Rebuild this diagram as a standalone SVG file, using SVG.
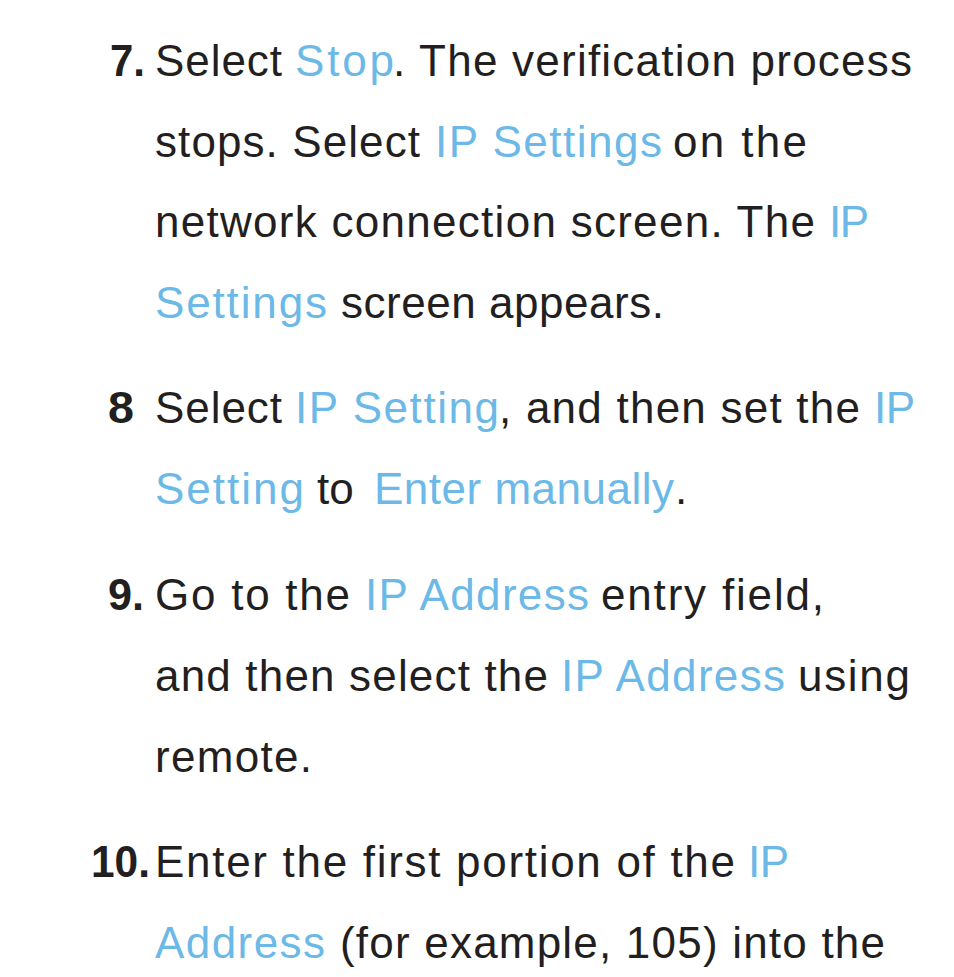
<svg xmlns="http://www.w3.org/2000/svg" width="954" height="977" viewBox="0 0 954 977">
<style>
text{font-family:"Liberation Sans",Arial,sans-serif;font-size:44px;}
.k{fill:#231f20;}
.b{fill:#6cb9e8;}
.n{fill:#231f20;font-weight:bold;}
</style>
<rect width="954" height="977" fill="#ffffff"/>
<g id="step7">
<text class="n" x="110" y="76" textLength="35" lengthAdjust="spacingAndGlyphs">7.</text>
<text class="k" x="155" y="76" textLength="127" lengthAdjust="spacing">Select</text>
<text class="b" x="295" y="76" textLength="99" lengthAdjust="spacing">Stop</text>
<text class="k" x="393" y="76" textLength="519" lengthAdjust="spacing">. The verification process</text>
<text class="k" x="155" y="157" textLength="265" lengthAdjust="spacing">stops. Select</text>
<text class="b" x="435" y="157" textLength="227" lengthAdjust="spacing">IP Settings</text>
<text class="k" x="673" y="157" textLength="134" lengthAdjust="spacing">on the</text>
<text class="k" x="155" y="237" textLength="660" lengthAdjust="spacing">network connection screen. The</text>
<text class="b" x="829" y="237" textLength="40" lengthAdjust="spacing">IP</text>
<text class="b" x="155" y="318" textLength="172" lengthAdjust="spacing">Settings</text>
<text class="k" x="341" y="318" textLength="323" lengthAdjust="spacing">screen appears.</text>
</g>
<g id="step8">
<text class="n" x="108" y="423" textLength="26" lengthAdjust="spacingAndGlyphs">8</text>
<text class="k" x="155" y="423" textLength="127" lengthAdjust="spacing">Select</text>
<text class="b" x="295" y="423" textLength="204" lengthAdjust="spacing">IP Setting</text>
<text class="k" x="499" y="423" textLength="361" lengthAdjust="spacing">, and then set the</text>
<text class="b" x="874" y="423" textLength="41" lengthAdjust="spacing">IP</text>
<text class="b" x="155" y="504" textLength="149" lengthAdjust="spacing">Setting</text>
<text class="k" x="317" y="504">to</text>
<text class="b" x="374" y="504" textLength="300" lengthAdjust="spacing">Enter manually</text>
<text class="k" x="675" y="504">.</text>
</g>
<g id="step9">
<text class="n" x="108" y="610" textLength="36" lengthAdjust="spacingAndGlyphs">9.</text>
<text class="k" x="155" y="610" textLength="195" lengthAdjust="spacing">Go to the</text>
<text class="b" x="365" y="610" textLength="224" lengthAdjust="spacing">IP Address</text>
<text class="k" x="601" y="610" textLength="223" lengthAdjust="spacing">entry field,</text>
<text class="k" x="155" y="691" textLength="393" lengthAdjust="spacing">and then select the</text>
<text class="b" x="561" y="691" textLength="224" lengthAdjust="spacing">IP Address</text>
<text class="k" x="798" y="691" textLength="112" lengthAdjust="spacing">using</text>
<text class="k" x="155" y="772" textLength="157" lengthAdjust="spacing">remote.</text>
</g>
<g id="step10">
<text class="n" x="91" y="877" textLength="59" lengthAdjust="spacingAndGlyphs">10.</text>
<text class="k" x="155" y="877" textLength="580" lengthAdjust="spacing">Enter the first portion of the</text>
<text class="b" x="748" y="877" textLength="41" lengthAdjust="spacing">IP</text>
<text class="b" x="155" y="958" textLength="170" lengthAdjust="spacing">Address</text>
<text class="k" x="340" y="958" textLength="545" lengthAdjust="spacing">(for example, 105) into the</text>
</g>
</svg>
